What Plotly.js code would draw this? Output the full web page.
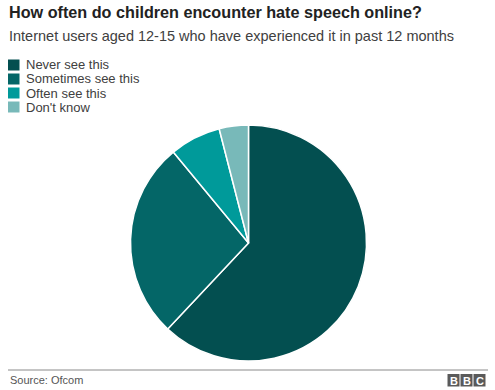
<!DOCTYPE html>
<html><head><meta charset="utf-8">
<script src="https://cdn.plot.ly/plotly-3.0.1.min.js"></script>
<style>html,body{margin:0;padding:0;background:#fff}#chart{width:495px;height:390px}</style>
</head><body><div id="chart"></div>
<script>
const categories = ["Never see this", "Sometimes see this", "Often see this", "Don't know"];
const shares = [62, 27, 7, 4];
const colors = ["#034f50", "#046667", "#009a9a", "#78b9b9"];

const FONT = "Liberation Sans, Arial, Helvetica, sans-serif";
const W = 495, H = 390;
const px = x => x / W;
const py = y => 1 - y / H;

const shapes = [];
const annotations = [];
categories.forEach((c, i) => {
  const yc = 65 + i * 14;
  shapes.push({type: "rect", xref: "paper", yref: "paper",
    x0: px(8), x1: px(19.5), y0: py(yc - 5.5), y1: py(yc + 5.5),
    fillcolor: colors[i], line: {width: 0}});
  annotations.push({xref: "paper", yref: "paper", x: px(24), y: py(yc),
    xanchor: "left", yanchor: "middle", showarrow: false, text: c,
    font: {family: FONT, size: 13, color: "#404040"}});
});
// footer line
shapes.push({type: "line", xref: "paper", yref: "paper", x0: px(8), x1: px(488),
  y0: py(370), y1: py(370), line: {color: "#8a8a8a", width: 1}});
// BBC blocks
["B", "B", "C"].forEach((l, i) => {
  const x0 = 447.5 + i * 13;
  shapes.push({type: "rect", xref: "paper", yref: "paper",
    x0: px(x0), x1: px(x0 + 12), y0: py(386.5), y1: py(374),
    fillcolor: "#5a5a5a", line: {width: 0}});
  annotations.push({xref: "paper", yref: "paper", x: px(x0 + 6), y: py(380.5),
    xanchor: "center", yanchor: "middle", showarrow: false, text: "<b>" + l + "</b>",
    font: {family: FONT, size: 11, color: "#ffffff"}});
});
annotations.push({xref: "paper", yref: "paper", x: px(8), y: py(380),
  xanchor: "left", yanchor: "middle", showarrow: false, text: "Source: Ofcom",
  font: {family: FONT, size: 11, color: "#555555"}});
annotations.push({xref: "paper", yref: "paper", x: px(7), y: py(12),
  xanchor: "left", yanchor: "middle", showarrow: false,
  text: "<b>How often do children encounter hate speech online?</b>",
  font: {family: FONT, size: 16.2, color: "#222222"}});
annotations.push({xref: "paper", yref: "paper", x: px(7), y: py(36),
  xanchor: "left", yanchor: "middle", showarrow: false,
  text: "Internet users aged 12-15 who have experienced it in past 12 months",
  font: {family: FONT, size: 14.5, color: "#404040"}});

const data = [{
  type: "pie", labels: categories, values: shares,
  marker: {colors: colors, line: {color: "#ffffff", width: 1.5}},
  sort: false, direction: "clockwise", rotation: 0,
  textinfo: "none", hoverinfo: "label+percent",
  domain: {x: [px(130), px(367)], y: [py(361), py(125)]}
}];
const layout = {
  width: W, height: H, margin: {l: 0, r: 0, t: 0, b: 0},
  paper_bgcolor: "#ffffff", plot_bgcolor: "#ffffff",
  showlegend: false, shapes: shapes, annotations: annotations,
  font: {family: FONT}
};
Plotly.newPlot("chart", data, layout, {displayModeBar: false, staticPlot: true});
</script></body></html>
